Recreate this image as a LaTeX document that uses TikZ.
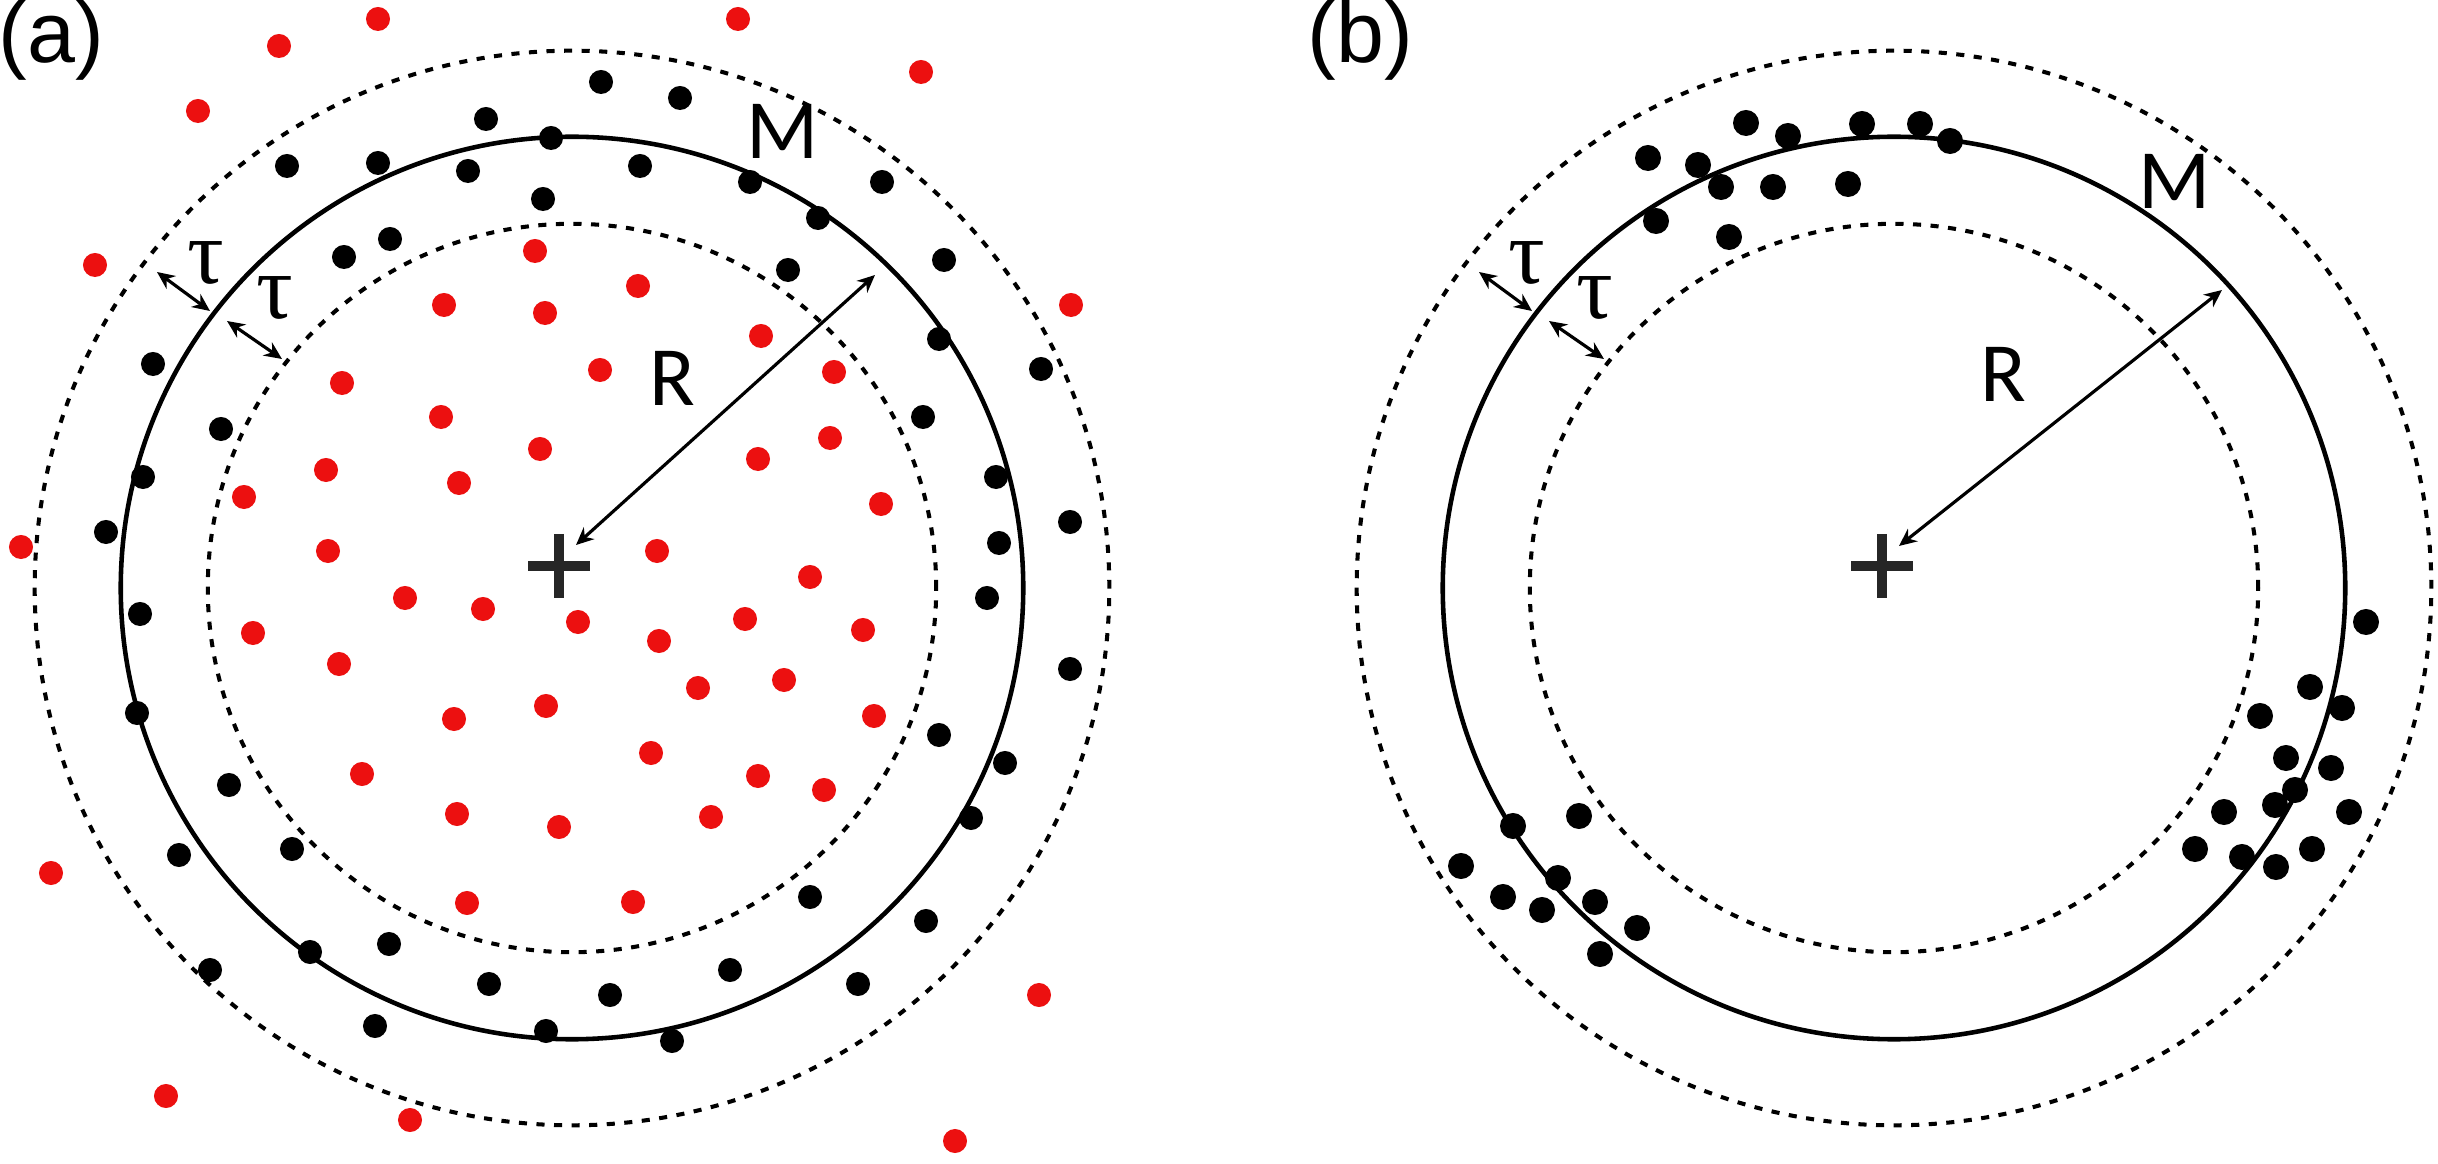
\documentclass[tikz,border=0pt]{standalone}
\usepackage{fontspec}
\setmainfont{Liberation Sans}
\newfontfamily\labfont{Carlito}
\newfontfamily\greekfont{Liberation Serif}
\usetikzlibrary{arrows.meta}
\definecolor{dotred}{RGB}{236,16,16}
\begin{document}
\begin{tikzpicture}[x=0.01cm, y=-0.01cm,
    rim/.style={line width=1.3pt},
    band/.style={line width=1.15pt, dash pattern=on 2.3pt off 2.7pt},
    gap/.style={{Stealth[length=5pt,width=4.5pt]}-{Stealth[length=5pt,width=4.5pt]}, line width=0.9pt},
    plus/.style={line width=2.8pt, draw=black!85},
    pip/.style={radius=0.12cm},
    pipb/.style={radius=0.13cm},
    panel/.style={font=\fontsize{24.5}{28}\selectfont, inner sep=0pt, anchor=base west},
    letter/.style={font=\labfont\fontsize{24}{28}\selectfont, inner sep=0pt},
    tau/.style={font=\greekfont\fontsize{26}{30}\selectfont, inner sep=0pt}]
  \useasboundingbox (0,0) rectangle (2438,1164);
  \coordinate (oa) at (572,588);
  \coordinate (ob) at (1894,588);

  % panel (a)
  \node[panel] (la) at (-2,63) {(a)};
  \draw[band] (oa) circle[radius=5.37cm];
  \draw[band] (oa) circle[radius=3.64cm];
  \draw[rim] (oa) circle[radius=4.51cm];
  \draw[plus] (559,534) -- (559,598) (528,566) -- (590,566);
  \coordinate (pa) at (559,566);
  \fill[dotred]
    (378,19) circle[pip] (279,46) circle[pip] (198,111) circle[pip]
    (95,265) circle[pip] (21,547) circle[pip] (738,19) circle[pip]
    (921,72) circle[pip] (1071,305) circle[pip] (51,873) circle[pip]
    (166,1096) circle[pip] (410,1120) circle[pip] (955,1141) circle[pip]
    (1039,995) circle[pip]
    (535,251) circle[pip] (638,286) circle[pip] (444,305) circle[pip]
    (545,313) circle[pip] (761,336) circle[pip] (342,383) circle[pip]
    (600,370) circle[pip] (834,372) circle[pip] (441,417) circle[pip]
    (830,438) circle[pip] (540,449) circle[pip] (758,459) circle[pip]
    (326,470) circle[pip] (459,483) circle[pip] (244,497) circle[pip]
    (881,504) circle[pip] (328,551) circle[pip] (657,551) circle[pip]
    (810,577) circle[pip] (405,598) circle[pip] (483,609) circle[pip]
    (578,622) circle[pip] (253,633) circle[pip] (745,619) circle[pip]
    (863,630) circle[pip] (659,641) circle[pip] (339,664) circle[pip]
    (784,680) circle[pip] (698,688) circle[pip] (546,706) circle[pip]
    (454,719) circle[pip] (874,716) circle[pip] (651,753) circle[pip]
    (362,774) circle[pip] (758,776) circle[pip] (824,790) circle[pip]
    (457,814) circle[pip] (559,827) circle[pip] (711,817) circle[pip]
    (467,903) circle[pip] (633,902) circle[pip];
  \fill[black]
    (601,82) circle[pip] (680,98) circle[pip] (486,119) circle[pip]
    (551,138) circle[pip] (287,166) circle[pip] (378,163) circle[pip]
    (468,171) circle[pip] (640,166) circle[pip] (750,182) circle[pip]
    (882,182) circle[pip] (543,199) circle[pip] (818,218) circle[pip]
    (390,239) circle[pip] (344,257) circle[pip] (788,270) circle[pip]
    (944,260) circle[pip] (939,339) circle[pip] (1041,369) circle[pip]
    (153,364) circle[pip] (923,417) circle[pip] (221,429) circle[pip]
    (143,477) circle[pip] (996,477) circle[pip] (1070,522) circle[pip]
    (106,532) circle[pip] (999,543) circle[pip] (987,598) circle[pip]
    (140,614) circle[pip] (1070,669) circle[pip] (137,713) circle[pip]
    (939,735) circle[pip] (1005,763) circle[pip] (229,785) circle[pip]
    (971,818) circle[pip] (292,849) circle[pip] (179,855) circle[pip]
    (810,897) circle[pip] (926,921) circle[pip] (389,944) circle[pip]
    (310,952) circle[pip] (210,970) circle[pip] (730,970) circle[pip]
    (489,984) circle[pip] (858,984) circle[pip] (610,995) circle[pip]
    (375,1026) circle[pip] (546,1031) circle[pip] (672,1041) circle[pip];
  \coordinate (ra0) at (576,545);
  \coordinate (ra1) at (875,275);
  \coordinate (ta0) at (157,272);
  \coordinate (ta1) at (210,311);
  \coordinate (ta2) at (227,321);
  \coordinate (ta3) at (282,359);
  \draw[gap] (ra0) -- (ra1);
  \draw[gap] (ta0) -- (ta1);
  \draw[gap] (ta2) -- (ta3);
  \node[letter] (Ma) at (783,131) {M};
  \node[letter] (Ra) at (672,378) {R};
  \node[tau] (tauA) at (206,263) {τ};
  \node[tau] (tauB) at (275,298) {τ};

  % panel (b)
  \node[panel] (lb) at (1307,63) {(b)};
  \draw[band] (ob) circle[radius=5.37cm];
  \draw[band] (ob) circle[radius=3.64cm];
  \draw[rim] (ob) circle[radius=4.51cm];
  \draw[plus] (1882,534) -- (1882,598) (1851,566) -- (1913,566);
  \coordinate (pb) at (1882,566);
  \fill[black]
    (1746,123) circle[pipb] (1788,136) circle[pipb] (1862,124) circle[pipb]
    (1920,124) circle[pipb] (1950,141) circle[pipb] (1648,158) circle[pipb]
    (1698,165) circle[pipb] (1721,187) circle[pipb] (1773,187) circle[pipb]
    (1848,184) circle[pipb] (1656,221) circle[pipb] (1729,237) circle[pipb]
    (1513,826) circle[pipb] (1579,816) circle[pipb] (1461,866) circle[pipb]
    (1558,878) circle[pipb] (1503,897) circle[pipb] (1542,910) circle[pipb]
    (1595,902) circle[pipb] (1637,928) circle[pipb] (1600,954) circle[pipb]
    (2366,622) circle[pipb] (2310,687) circle[pipb] (2342,708) circle[pipb]
    (2260,716) circle[pipb] (2286,758) circle[pipb] (2331,768) circle[pipb]
    (2295,790) circle[pipb] (2275,805) circle[pipb] (2224,812) circle[pipb]
    (2349,812) circle[pipb] (2195,849) circle[pipb] (2242,857) circle[pipb]
    (2312,849) circle[pipb] (2276,867) circle[pipb];
  \coordinate (rb0) at (1899,546);
  \coordinate (rb1) at (2222,290);
  \coordinate (tb0) at (1479,272);
  \coordinate (tb1) at (1532,311);
  \coordinate (tb2) at (1549,321);
  \coordinate (tb3) at (1604,359);
  \draw[gap] (rb0) -- (rb1);
  \draw[gap] (tb0) -- (tb1);
  \draw[gap] (tb2) -- (tb3);
  \node[letter] (Mb) at (2175,181) {M};
  \node[letter] (Rb) at (2003,374) {R};
  \node[tau] (tauC) at (1527,263) {τ};
  \node[tau] (tauD) at (1595,298) {τ};
\end{tikzpicture}
\end{document}
